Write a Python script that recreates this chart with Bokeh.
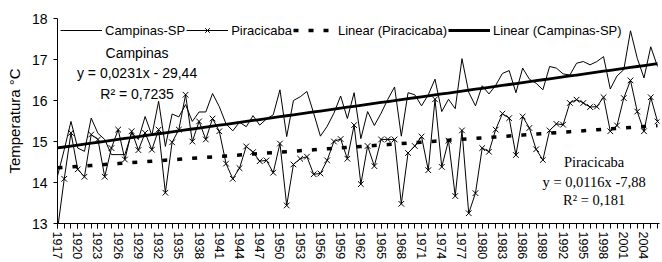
from bokeh.plotting import figure
from bokeh.models import (FixedTicker, Range1d, Legend, LegendItem, Label)
from bokeh.embed import file_html
from bokeh.resources import INLINE

years = list(range(1917, 2007))
campinas = [14.16, 14.80, 15.49, 14.84, 14.76, 15.57, 15.20, 15.05, 14.68, 14.68,
            14.68, 15.21, 15.05, 15.61, 15.15, 15.98, 14.88, 15.67, 15.60, 15.90,
            15.49, 15.72, 15.72, 16.17, 15.85, 15.43, 15.26, 15.47, 15.36, 15.63,
            15.40, 15.55, 15.65, 16.26, 15.12, 16.00, 16.09, 16.22, 15.69, 15.13,
            15.37, 15.69, 16.11, 15.56, 16.19, 15.07, 15.73, 15.39, 15.69, 16.03,
            16.33, 15.13, 16.19, 16.14, 15.87, 16.14, 16.52, 15.73, 16.03, 15.80,
            17.02, 16.20, 15.87, 16.36, 16.16, 16.37, 16.66, 16.73, 16.19, 16.79,
            16.52, 16.42, 16.26, 16.83, 16.79, 16.65, 16.62, 16.91, 16.95, 16.87,
            16.95, 17.07, 16.28, 16.60, 16.75, 17.70, 17.03, 16.55, 17.31, 16.83]
piracicaba = [12.85, 14.09, 15.21, 14.32, 14.14, 15.17, 15.05, 14.14, 14.84, 15.29,
              14.56, 15.25, 14.79, 15.21, 14.80, 15.29, 13.75, 14.98, 15.29, 16.14,
              15.00, 15.49, 15.05, 15.56, 15.25, 14.46, 14.09, 14.35, 14.88, 14.74,
              14.52, 14.54, 14.24, 14.95, 13.44, 14.44, 14.58, 14.63, 14.20, 14.22,
              14.54, 15.00, 15.06, 14.58, 15.40, 13.96, 14.89, 14.40, 15.05, 15.05,
              15.05, 13.48, 14.72, 14.89, 15.12, 14.30, 16.03, 14.38, 15.02, 13.67,
              15.27, 13.25, 13.74, 14.84, 14.75, 15.29, 15.68, 15.57, 14.67, 15.61,
              15.33, 14.81, 14.55, 15.27, 15.43, 15.41, 15.94, 16.02, 15.94, 15.84,
              15.85, 16.08, 15.25, 15.39, 16.06, 16.49, 15.73, 15.25, 16.08, 15.49]

# trend coefficients printed on the chart
camp_slope, camp_icpt = 0.0231, -29.44
pira_slope, pira_icpt = 0.0116, -7.88

camp_trend = [camp_slope * y + camp_icpt for y in years]
pira_trend = [pira_slope * y + pira_icpt for y in years]

y_ticks = [13, 14, 15, 16, 17, 18]
x_label_years = list(range(1917, 2005, 3))

FONT = "Liberation Sans"

p = figure(width=662, height=262, output_backend="svg", toolbar_location=None,
           x_range=Range1d(1917, 2006.3), y_range=Range1d(13, 18),
           min_border_left=57, min_border_right=3, min_border_top=18,
           min_border_bottom=38)
p.outline_line_color = None
p.grid.visible = False
p.background_fill_color = "white"

r_camp = p.line(years, campinas, line_color="black", line_width=1)
r_pira = p.line(years, piracicaba, line_color="black", line_width=1)
r_pira_m = p.scatter(years, piracicaba, marker="x", size=8, line_color="black",
                     line_width=1)
r_ptrend = p.line(years, pira_trend, line_color="black", line_width=3.5,
                  line_dash="5 10")
r_ctrend = p.line(years, camp_trend, line_color="black", line_width=2.8)

# axes
p.xaxis.ticker = FixedTicker(ticks=x_label_years, minor_ticks=years)
p.xaxis.major_label_orientation = "vertical"
p.xaxis.major_label_text_font = FONT
p.xaxis.major_label_text_font_size = "12.5px"
p.xaxis.major_label_text_color = "black"
p.xaxis.major_tick_out = 5
p.xaxis.major_tick_in = 0
p.xaxis.minor_tick_out = 5
p.xaxis.minor_tick_in = 0
p.xaxis.major_label_standoff = 3
p.xaxis.axis_line_color = "black"
p.xaxis.major_tick_line_color = "black"
p.xaxis.minor_tick_line_color = "black"

p.yaxis.ticker = FixedTicker(ticks=y_ticks)
p.yaxis.major_label_text_font = FONT
p.yaxis.major_label_text_font_size = "14px"
p.yaxis.major_label_text_color = "black"
p.yaxis.major_tick_out = 4
p.yaxis.major_tick_in = 0
p.yaxis.minor_tick_line_color = None
p.yaxis.major_label_standoff = 6
p.yaxis.axis_label = "Temperatura °C"
p.yaxis.axis_label_text_font = FONT
p.yaxis.axis_label_text_font_style = "normal"
p.yaxis.axis_label_text_font_size = "15px"
p.yaxis.axis_label_text_color = "black"
p.yaxis.axis_label_standoff = 6
p.yaxis.axis_line_color = "black"

legend = Legend(items=[
    LegendItem(label="Campinas-SP", renderers=[r_camp]),
    LegendItem(label="Piracicaba", renderers=[r_pira, r_pira_m]),
    LegendItem(label="Linear (Piracicaba)", renderers=[r_ptrend]),
    LegendItem(label="Linear (Campinas-SP)", renderers=[r_ctrend]),
], orientation="horizontal", location=(3, 185))
legend.background_fill_alpha = 0
legend.border_line_alpha = 0
legend.padding = 0
legend.margin = 0
legend.spacing = 1
legend.glyph_width = 42
legend.glyph_height = 16
legend.label_height = 16
legend.label_standoff = 3
legend.label_text_font = FONT
legend.label_text_font_size = "13px"
legend.label_text_color = "black"
p.add_layout(legend)

# regression annotations
camp_lines = ["Campinas", "y = 0,0231x - 29,44", "R\u00b2 = 0,7235"]
camp_ys = [17.16, 16.67, 16.16]
for t, yy in zip(camp_lines, camp_ys):
    p.add_layout(Label(x=1928.8, y=yy, text=t, text_align="center",
                       text_baseline="middle", text_font=FONT,
                       text_font_size="14px", text_color="black"))

pira_lines = ["Piracicaba", "y = 0,0116x -7,88", "R\u00b2 = 0,181"]
pira_ys = [14.49, 14.02, 13.57]
for t, yy in zip(pira_lines, pira_ys):
    p.add_layout(Label(x=1996.6, y=yy, text=t, text_align="center",
                       text_baseline="middle", text_font="Liberation Serif",
                       text_font_size="14.5px", text_color="black"))

open("out.html", "w").write(file_html(p, INLINE))
